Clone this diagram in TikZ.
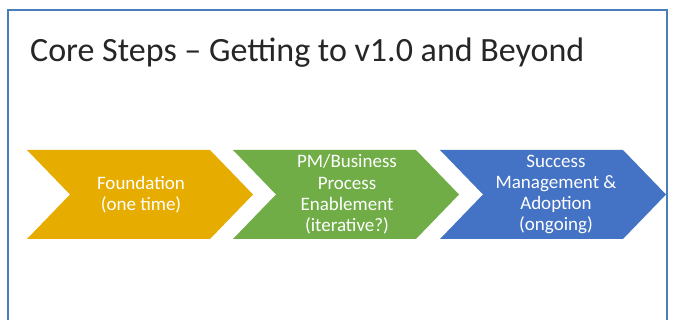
\documentclass[tikz,border=0pt]{standalone}
\usepackage{fontspec}
\setmainfont{Carlito}
\begin{document}
\begin{tikzpicture}[x=1pt,y=-1pt,
  lbl/.style={text=white, align=center, font=\fontsize{19}{21.3}\selectfont, inner sep=0pt}]
\definecolor{frameblue}{RGB}{74,126,187}
\definecolor{cgold}{RGB}{230,172,0}
\definecolor{cgreen}{RGB}{112,173,71}
\definecolor{cblue}{RGB}{68,114,196}
\useasboundingbox (0,0) rectangle (673,320);
\fill[white] (0,0) rectangle (673,320);
\draw[frameblue, line width=1.3pt] (8,325) -- (8,10) -- (667,10) -- (667,325);
\node[anchor=base west, inner sep=0pt, font=\fontsize{34}{40}\selectfont, text=black!85] (title) at (30,62) {Core Steps – Getting to v1.0 and Beyond};
% chevrons: left x, width 226, depth 43, y 150..239
\foreach \n/\x/\c in {a/27/cgold, b/233/cgreen, c/440/cblue}{
  \fill[\c] (\x,150) -- (\x+183,150) -- (\x+226,194.5) -- (\x+183,239) -- (\x,239) -- (\x+43,194.5) -- cycle;
}
\node[lbl] (fa) at (141,194.5) {Foundation\\(one time)};
\node[lbl] (fb) at (347,194.5) {PM/Business\\Process\\Enablement\\(iterative?)};
\node[lbl] (fc) at (556,194.5) {Success\\Management \&\\Adoption\\(ongoing)};
\end{tikzpicture}
\end{document}
